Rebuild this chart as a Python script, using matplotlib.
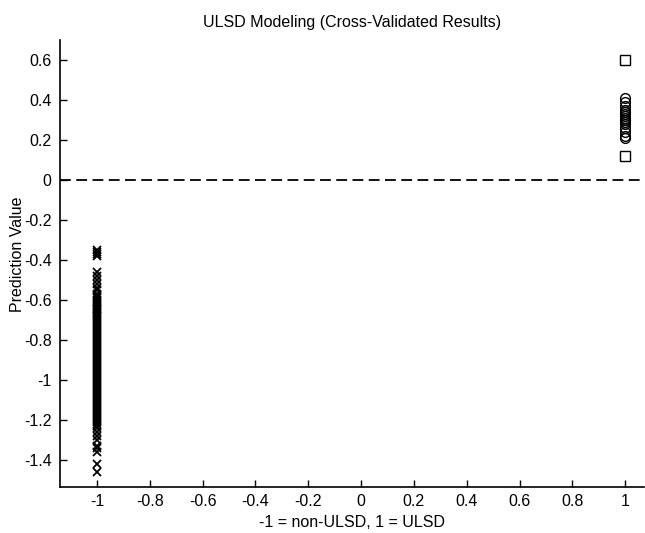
import matplotlib
matplotlib.use("Agg")
import matplotlib.pyplot as plt

plt.rcParams['font.family'] = ['Liberation Sans', 'DejaVu Sans']

# class labels
x_non = -1
x_ulsd = 1

# cross-validated predictions, non-ULSD samples
non_ulsd = [-0.35, -0.36, -0.37, -0.38, -0.46, -0.48, -0.50, -0.52, -0.54,
            -0.55, -0.57, -0.58, -0.59, -0.60, -0.61, -0.62, -0.63, -0.64,
            -0.645, -0.65, -0.66, -0.67, -0.68, -0.69, -0.70, -0.71, -0.72,
            -0.73, -0.74, -0.75, -0.76, -0.77, -0.78, -0.79, -0.80, -0.81,
            -0.82, -0.83, -0.84, -0.85, -0.86, -0.87, -0.88, -0.89, -0.90,
            -0.91, -0.92, -0.93, -0.94, -0.95, -0.96, -0.97, -0.98, -0.99,
            -1.00, -1.01, -1.02, -1.03, -1.04, -1.05, -1.06, -1.07, -1.08,
            -1.09, -1.10, -1.11, -1.12, -1.13, -1.14, -1.15, -1.16, -1.17,
            -1.18, -1.19, -1.20, -1.21, -1.22, -1.23, -1.24, -1.26, -1.28,
            -1.30, -1.33, -1.34, -1.36, -1.42, -1.46]

# ULSD samples
ulsd_circles = [0.41, 0.39, 0.37, 0.35, 0.34, 0.33, 0.32, 0.31, 0.30, 0.30,
                0.29, 0.28, 0.26, 0.24, 0.22, 0.21]
ulsd_squares = [0.60, 0.12]

xticks = [-1, -0.8, -0.6, -0.4, -0.2, 0, 0.2, 0.4, 0.6, 0.8, 1]
yticks = [0.6, 0.4, 0.2, 0, -0.2, -0.4, -0.6, -0.8, -1, -1.2, -1.4]

fs = 11.5

fig = plt.figure(figsize=(6.45, 5.33), dpi=100)
ax = fig.add_axes([0.093, 0.086, 0.905, 0.839])

ax.plot([x_non] * len(non_ulsd), non_ulsd, 'x', color='black', ms=6, mew=1.3)
ax.plot([x_ulsd] * len(ulsd_circles), ulsd_circles, 'o', color='black',
        mfc='none', ms=7, mew=1.0)
ax.plot([x_ulsd] * len(ulsd_squares), ulsd_squares, 's', color='black',
        mfc='none', ms=7.5, mew=1.0)
ax.axhline(0, color='black', ls=(0, (6, 3)), lw=1.3)

ax.set_xlim(-1.14, 1.07)
ax.set_ylim(-1.535, 0.7)
ax.set_xticks(xticks)
ax.set_xticklabels(['%g' % t for t in xticks])
ax.set_yticks(yticks)
ax.set_yticklabels(['%g' % t for t in yticks])
ax.tick_params(direction='in', length=5, labelsize=fs, width=1)
ax.tick_params(axis='x', pad=5)
ax.tick_params(axis='y', pad=6)
for s in ['top', 'right']:
    ax.spines[s].set_visible(False)
for s in ['left', 'bottom']:
    ax.spines[s].set_linewidth(1.2)

ax.set_title('ULSD Modeling (Cross-Validated Results)', fontsize=fs, pad=9)
ax.set_xlabel('-1 = non-ULSD, 1 = ULSD', fontsize=fs, labelpad=4)
ax.set_ylabel('Prediction Value', fontsize=fs)
ax.yaxis.set_label_coords(-0.060, 0.52)

fig.savefig('out.png', dpi=100)
